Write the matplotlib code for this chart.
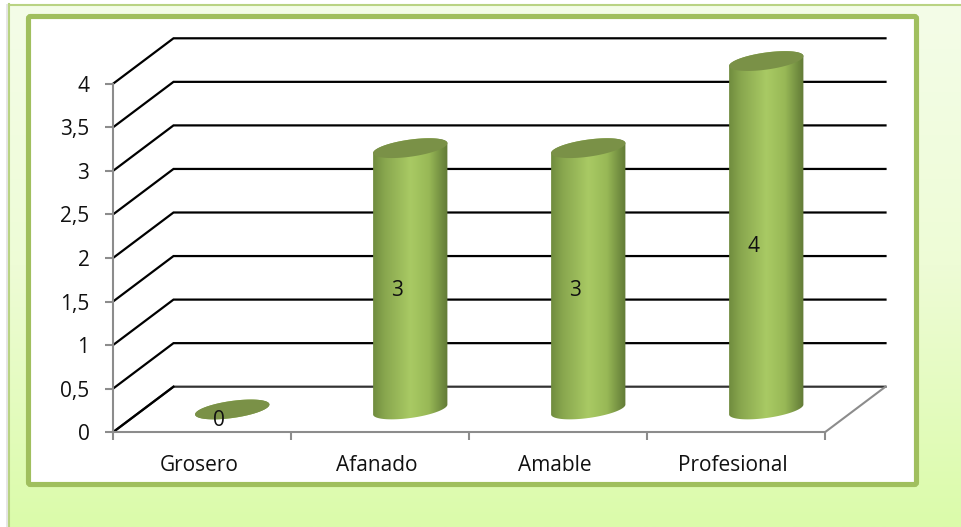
import numpy as np
import matplotlib
matplotlib.use("Agg")
import matplotlib.pyplot as plt
from matplotlib.colors import LinearSegmentedColormap
from matplotlib.patches import FancyBboxPatch, PathPatch, Polygon, Rectangle
from matplotlib.path import Path

plt.rcParams["font.family"] = ["Open Sans", "DejaVu Sans"]

categories = ["Grosero", "Afanado", "Amable", "Profesional"]
values = [0, 3, 3, 4]
y_ticks = [0, 0.5, 1, 1.5, 2, 2.5, 3, 3.5, 4]
y_labels = ["0", "0,5", "1", "1,5", "2", "2,5", "3", "3,5", "4"]

W, H = 961, 527
AX_L, AX_R, AX_B, AX_T = 113, 825, 432.2, 83.8
px_x = (AX_R - AX_L) / len(categories)
px_y = (AX_B - AX_T) / 4

# depth of the fake 3d box, in data units
depth_x = 60.5 / px_x
depth_y = 45.5 / px_y

fig = plt.figure(figsize=(W / 100, H / 100), dpi=100)
fig.patch.set_facecolor("white")

# panel and frame, in pixel coords
bg = fig.add_axes([0, 0, 1, 1], zorder=0)
bg.set_xlim(0, W)
bg.set_ylim(H, 0)
bg.axis("off")
panel_cmap = LinearSegmentedColormap.from_list("panel", ["#f4fde8", "#eefcd6", "#dbfbaa"])
panel = bg.imshow(np.linspace(0, 1, 256).reshape(-1, 1), cmap=panel_cmap, aspect="auto",
                  extent=[9, W, H, 4], zorder=1)
bg.plot([9, 9], [H, 4], color="#b9d383", lw=1.5, zorder=2)
bg.plot([9, W], [4.5, 4.5], color="#b9d383", lw=1.5, zorder=2)
bg.add_patch(Rectangle((6, 4), 2.5, H, color="#e6e6e6", lw=0, zorder=1))
bg.add_patch(FancyBboxPatch((28.5, 16.5), 888, 468, boxstyle="round,pad=0,rounding_size=2",
                            fc="white", ec="#a0bf5e", lw=3.7, zorder=3))
bg.set_xlim(0, W)
bg.set_ylim(H, 0)

ax = fig.add_axes([AX_L / W, 1 - AX_B / H, (AX_R - AX_L) / W, (AX_B - AX_T) / H], zorder=1)
ax.patch.set_alpha(0)
for side in ["top", "right"]:
    ax.spines[side].set_visible(False)
for side in ["left", "bottom"]:
    ax.spines[side].set_color("#8c8c8c")
    ax.spines[side].set_linewidth(1.5)

n = len(categories)

# gridlines: diagonal on the side wall, then along the back wall
for v in y_ticks:
    xs = [0, depth_x, n + depth_x]
    ys = [v, v + depth_y, v + depth_y]
    color = "#333333" if v == 0 else "black"
    ax.plot(xs, ys, color=color, lw=1.6, clip_on=False, zorder=1, solid_joinstyle="miter")
ax.plot([0, depth_x], [0, depth_y], color="black", lw=1.6, clip_on=False, zorder=1.5)
ax.plot([n, n + depth_x], [0, depth_y], color="#8c8c8c", lw=1.5, clip_on=False, zorder=1.5)


def ellipse(cx, cy, t):
    # tilted ellipse, shape set in pixels, returned in data units
    a, b, tilt = 37.5, 8.5, np.radians(8)
    ex = a * np.cos(t)
    ey = b * np.sin(t)
    return np.column_stack([cx + (ex * np.cos(tilt) - ey * np.sin(tilt)) / px_x,
                            cy + (ex * np.sin(tilt) + ey * np.cos(tilt)) / px_y])


bar_cmap = LinearSegmentedColormap.from_list(
    "cyl", [(0, "#708c3e"), (0.15, "#88a64e"), (0.5, "#a9ca64"), (0.75, "#98b856"),
            (0.93, "#708b3f"), (1, "#627b36")])

for i, v in enumerate(values):
    cx = i + 0.5 + depth_x / 2
    base = depth_y / 2
    top = v + base
    half = 37.5 / px_x
    low = ellipse(cx, base, np.linspace(np.pi, 2 * np.pi, 60))
    up = ellipse(cx, top, np.linspace(0, np.pi, 60))
    body = Path(np.vstack([low, up, low[:1]]), closed=True)
    clip = PathPatch(body, transform=ax.transData)
    im = ax.imshow(np.linspace(0, 1, 128).reshape(1, -1), cmap=bar_cmap, aspect="auto",
                   extent=[cx - half, cx + half, -0.5, top + 0.5], zorder=2)
    im.set_clip_path(clip)
    im.set_clip_box(fig.bbox)
    ax.add_patch(Polygon(ellipse(cx, top, np.linspace(0, 2 * np.pi, 120)), closed=True,
                         fc="#7a9147", ec="none", clip_on=False, zorder=3))
    ax.text(i + 0.596, v / 2 + 0.13, str(v), ha="center", va="center", fontsize=15,
            color="#111111", zorder=4)

ax.set_xlim(0, n)
ax.set_ylim(0, 4)
ax.set_yticks(y_ticks)
ax.set_yticklabels(y_labels)
ax.set_xticks(range(n + 1))
ax.set_xticklabels([])
ax.set_xticks(np.arange(n) + 0.483, categories, minor=True)
ax.tick_params(axis="y", length=6, width=1.5, color="#8c8c8c", pad=11, labelsize=15, labelcolor="#111111")
ax.tick_params(axis="x", which="major", length=6, width=1.5, color="#8c8c8c")
ax.tick_params(axis="x", which="minor", length=0, pad=16.5, labelsize=15, labelcolor="#111111")

fig.savefig("out.png", dpi=100)
